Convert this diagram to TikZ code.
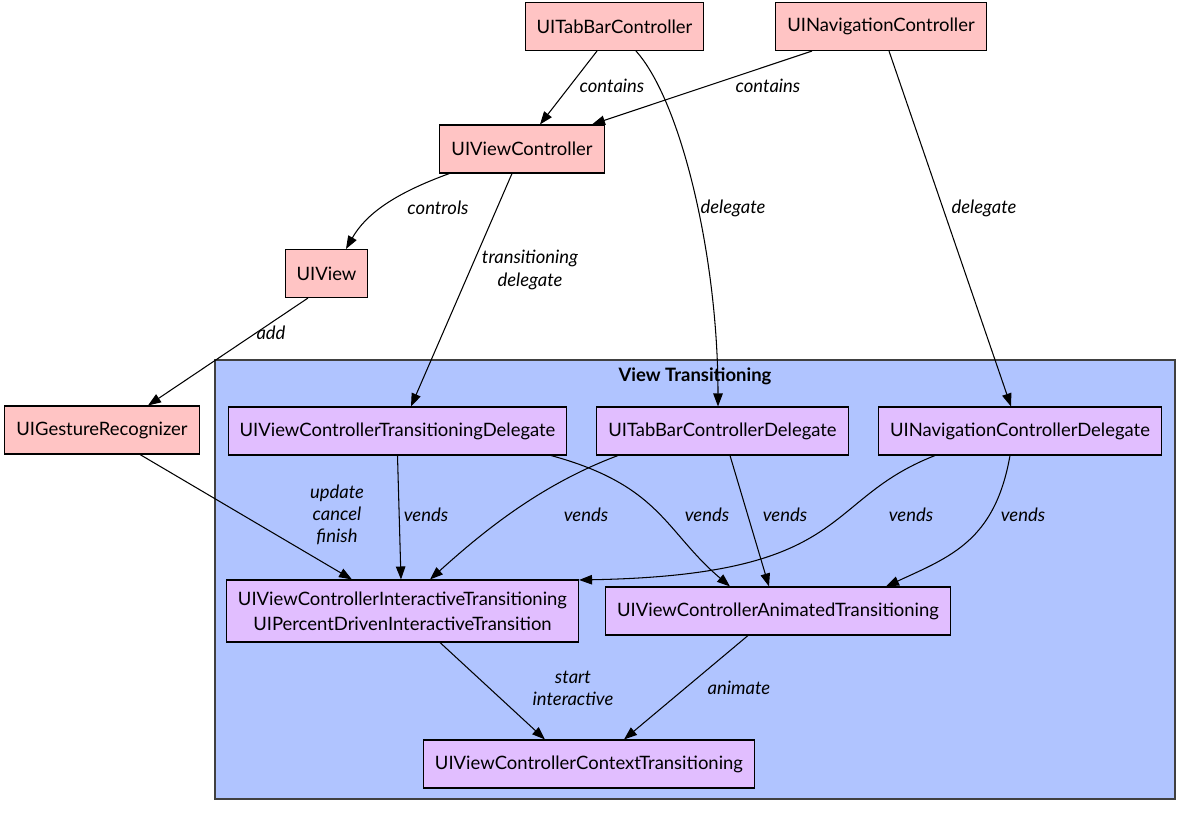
\documentclass[tikz,border=0pt]{standalone}
\usepackage{fontspec}
\setmainfont{Lato}
\usepackage{tikz}
\usetikzlibrary{arrows.meta,positioning,calc}
\usepackage{xcolor}
\definecolor{uikit}{HTML}{FFC4C4}
\definecolor{proto}{HTML}{E1BEFF}
\definecolor{cluster}{HTML}{B0C4FF}
\definecolor{ink}{HTML}{000000}
\tikzset{
  >={Triangle[length=2.6mm,width=1.9mm]},
  every node/.style={font=\fontsize{10.5}{14.2}\selectfont,text=ink},
  box/.style={draw=ink,line width=0.6pt,fill=uikit,align=center,inner xsep=2.3mm,minimum height=9.6mm},
  protobox/.style={box,fill=proto},
  groupbox/.style={draw=ink!75,line width=0.6pt,fill=cluster,inner sep=0pt},
  grouptitle/.style={font=\fontsize{10.5}{12}\selectfont\bfseries},
  edge/.style={->,draw=ink,line width=0.6pt},
  lab/.style={font=\fontsize{10.5}{12.6}\selectfont\itshape,align=center,inner sep=1pt},
}
\begin{document}
\begin{tikzpicture}
\useasboundingbox (0,0) rectangle (23.84,-16.34);

% ---------- cluster ----------
\node[groupbox,minimum width=19.2cm,minimum height=8.78cm] (vt) at (13.9,-11.59) {};
\node[grouptitle] (vtTitle) at (13.9,-7.52) {View Transitioning};

% ---------- UIKit classes ----------
\node[box] (tbc) at (12.29,-0.53) {UITabBarController};
\node[box] (nav) at (17.62,-0.53) {UINavigationController};
\node[box] (vc) at (10.44,-2.98) {UIViewController};
\node[box] (view) at (6.53,-5.47) {UIView};
\node[box] (gr) at (2.04,-8.6) {UIGestureRecognizer};

% ---------- protocols ----------
\node[protobox] (tdel) at (7.95,-8.62) {UIViewControllerTransitioningDelegate};
\node[protobox] (tbd) at (14.45,-8.62) {UITabBarControllerDelegate};
\node[protobox] (nd) at (20.4,-8.62) {UINavigationControllerDelegate};
\node[protobox,minimum height=1.24cm] (inter) at (8.05,-12.22) {UIViewControllerInteractiveTransitioning\\UIPercentDrivenInteractiveTransition};
\node[protobox] (anim) at (15.56,-12.22) {UIViewControllerAnimatedTransitioning};
\node[protobox] (ctx) at (11.78,-15.28) {UIViewControllerContextTransitioning};

% ---------- edges ----------
\draw[edge] ([xshift=-3.5mm]tbc.south) -- ([xshift=3.6mm]vc.north);
\draw[edge] ([xshift=-13.8mm]nav.south) -- ([xshift=14mm]vc.north);
\draw[edge] ([xshift=4.3mm]tbc.south) .. controls +(0.9,-1) and +(0,3) .. ([xshift=-0.9mm]tbd.north);
\draw[edge] ([xshift=1.6mm]nav.south) -- ([xshift=-1.8mm]nd.north);
\draw[edge] ([xshift=2mm]vc.south west) .. controls +(-1.1,-0.4) and +(0.4,0.7) .. ([xshift=3.9mm]view.north);
\draw[edge] ([xshift=-2mm]vc.south) -- ([xshift=2.7mm]tdel.north);
\draw[edge] ([xshift=-3.7mm]view.south) -- ([xshift=9.2mm]gr.north);
\draw[edge] ([xshift=7.6mm]gr.south) -- ([xshift=-10.1mm]inter.north);
\draw[edge] (tdel.south) -- ([xshift=-0.3mm]inter.north);
\draw[edge] ([xshift=30.7mm]tdel.south) .. controls +(2.2,-0.6) and +(-1.3,1.1) .. ([xshift=-9.6mm]anim.north);
\draw[edge] ([xshift=-20.9mm]tbd.south) .. controls +(-1.6,-0.6) and +(1,0.9) .. ([xshift=5.5mm]inter.north);
\draw[edge] ([xshift=1.5mm]tbd.south) -- ([xshift=-1.8mm]anim.north);
\draw[edge] ([xshift=-17mm]nd.south) .. controls +(-2.3,-0.9) and +(5.5,0.1) .. ([yshift=-0.1mm]inter.north east);
\draw[edge] ([xshift=-2mm]nd.south) .. controls +(-0.3,-1.7) and +(1.3,0.6) .. ([xshift=21.6mm]anim.north);
\draw[edge] ([xshift=7.5mm]inter.south) -- ([xshift=-8.8mm]ctx.north);
\draw[edge] ([xshift=-6mm]anim.south) -- ([xshift=7mm]ctx.north);

% ---------- edge labels ----------
\node[lab] (lContainsT) at (12.24,-1.72) {contains};
\node[lab] (lContainsN) at (15.36,-1.72) {contains};
\node[lab] (lDelegateT) at (14.66,-4.16) {delegate};
\node[lab] (lDelegateN) at (19.68,-4.16) {delegate};
\node[lab] (lControls) at (8.76,-4.16) {controls};
\node[lab] (lTransDel) at (10.6,-5.4) {transitioning\\delegate};
\node[lab] (lAdd) at (5.42,-6.66) {add};
\node[lab] (lUpdate) at (6.74,-10.3) {update\\cancel\\finish};
\node[lab] (lVends1) at (8.52,-10.3) {vends};
\node[lab] (lVends2) at (11.72,-10.3) {vends};
\node[lab] (lVends3) at (14.14,-10.3) {vends};
\node[lab] (lVends4) at (15.7,-10.3) {vends};
\node[lab] (lVends5) at (18.22,-10.3) {vends};
\node[lab] (lVends6) at (20.46,-10.3) {vends};
\node[lab] (lStart) at (11.46,-13.76) {start\\interactive};
\node[lab] (lAnimate) at (14.78,-13.76) {animate};

\end{tikzpicture}
\end{document}
